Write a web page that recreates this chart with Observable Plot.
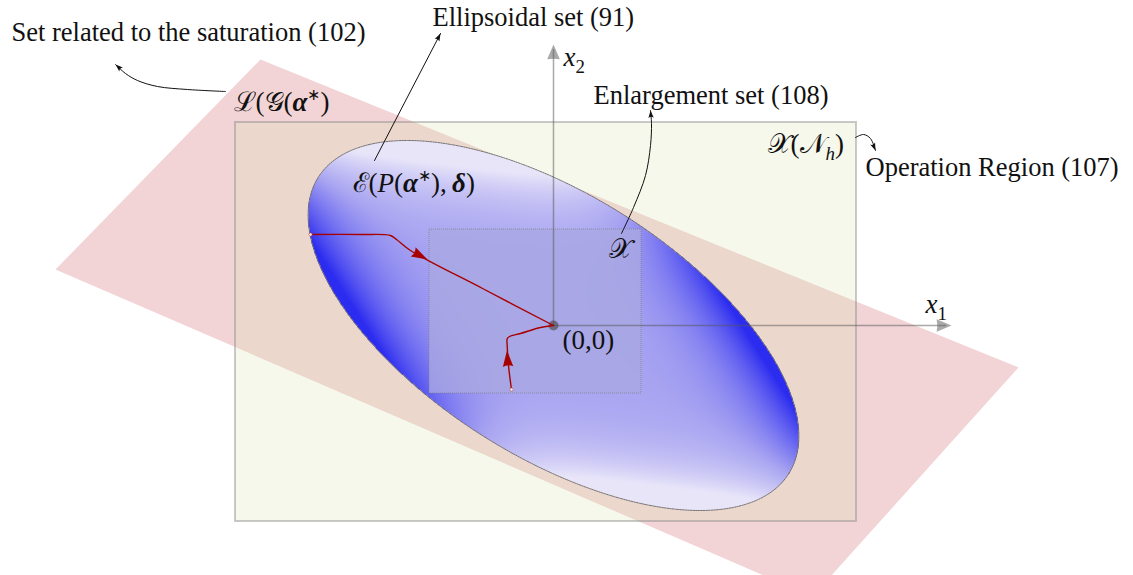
<!DOCTYPE html>
<html>
<head>
<meta charset="utf-8">
<script src="https://cdn.jsdelivr.net/npm/d3@7"></script>
<script src="https://cdn.jsdelivr.net/npm/@observablehq/plot@0.6"></script>
<style>
  html, body { margin: 0; padding: 0; background: #fff; }
  #chart svg { display: block; }
</style>
</head>
<body>
<div id="chart"></div>
<script>
// ---- Diagram data (state-space units, origin at (0,0)) ----
// Saturation set L(G(alpha*)) – a slanted band (polygon corners)
const bandX = [-4.98, -2.93, 4.65, 2.59];
const bandY = [0.56, 2.66, -0.42, -2.71];

// Operation region X(N_h) – rectangle
const operationX = [-3.18, 3.03];
const operationY = [-1.96, 2.03];

// Enlargement set X – rectangle
const enlargeX = [-1.24, 0.88];
const enlargeY = [-0.68, 0.96];

// Ellipsoidal set E(P(alpha*), delta)
const ellipseSemiAxes = [2.78, 1.31];
const ellipseTiltDeg = -32.2;

// State axes (tips)
const axisX1Tip = 3.98;
const axisX2Tip = 2.81;

// Trajectories converging to the origin
const traj1X = [-2.43, -1.93, -1.63, -1.57, -1.43, -0.70, 0];
const traj1Y = [0.91, 0.91, 0.90, 0.86, 0.75, 0.365, 0];
const traj2X = [-0.42, -0.45, -0.463, -0.463, -0.44, -0.33, -0.13, 0];
const traj2Y = [-0.64, -0.40, -0.20, -0.133, -0.11, -0.08, -0.02, 0];
const trajArrowX = [-1.26, -0.465];
const trajArrowY = [0.66, -0.25];

// Annotation pointers
const noteSatX = [-3.28, -3.66, -3.96, -4.16, -4.28, -4.38];
const noteSatY = [2.34, 2.36, 2.39, 2.45, 2.52, 2.61];
const noteEllX = [-1.79, -1.13];
const noteEllY = [1.65, 2.92];
const noteEnlX = [0.68, 0.80, 0.92, 0.97, 0.98, 0.97];
const noteEnlY = [0.92, 1.18, 1.50, 1.80, 2.02, 2.15];
const noteOpX = [3.02, 3.10, 3.17, 3.22];
const noteOpY = [1.88, 1.91, 1.87, 1.75];

// Text labels
const noteTexts = ["Set related to the saturation (102)", "Ellipsoidal set (91)", "Enlargement set (108)", "Operation Region (107)"];
const noteTextX = [-5.42, -1.21, 0.40, 3.12];
const noteTextY = [2.85, 3.00, 2.22, 1.50];
const mathTexts = ["ℒ(𝒢(𝛂*)", "ℰ(𝑃(𝛂*),\u2009𝛅)", "𝒳(𝒩ₕ)", "𝒳", "(0,0)", "𝑥₂", "𝑥₁"];
const mathTextX = [-3.20, -2.01, 2.14, 0.55, 0.09, 0.10, 3.72];
const mathTextY = [2.15, 1.34, 1.73, 0.68, -0.23, 2.60, 0.13];

// ---- helpers ----
const zipXY = (xs, ys) => xs.map((x, i) => ({x, y: ys[i]}));
const tilt = ellipseTiltDeg * Math.PI / 180;
const [ea, eb] = ellipseSemiAxes;
const cosT = Math.cos(tilt), sinT = Math.sin(tilt);
function localPQ(x, y) {
  const u = x * cosT + y * sinT;
  const v = -x * sinT + y * cosT;
  return [u / ea, v / eb];
}
function inside(x, y) { const [p, q] = localPQ(x, y); return p * p + q * q <= 1; }
function shade(x, y) {
  const [p, q] = localPQ(x, y);
  const r2 = p * p + q * q;
  if (r2 > 1) return NaN;
  if (r2 < 1e-9) return 0.42;
  const s2 = 2 * p * q / r2;              // sin(2·angle) on the ellipse
  return Math.max(0, Math.min(1, 0.42 + 0.72 * s2 * Math.pow(r2, 2)));
}
const ellipseOutline = d3.range(0, 361, 1).map(k => {
  const f = k * Math.PI / 180;
  const u = ea * Math.cos(f), v = eb * Math.sin(f);
  return {x: u * cosT - v * sinT, y: u * sinT + v * cosT};
});
function headingOnPath(xs, ys, ax, ay) {
  let best = 0, bd = Infinity;
  for (let i = 0; i < xs.length - 1; i++) {
    const mx = (xs[i] + xs[i + 1]) / 2, my = (ys[i] + ys[i + 1]) / 2;
    const d = (mx - ax) ** 2 + (my - ay) ** 2;
    if (d < bd) { bd = d; best = i; }
  }
  const dx = xs[best + 1] - xs[best], dy = ys[best + 1] - ys[best];
  return 90 - Math.atan2(dy, dx) * 180 / Math.PI;
}
function tipOf(xs, ys) {
  const n = xs.length;
  const dx = xs[n - 1] - xs[n - 2], dy = ys[n - 1] - ys[n - 2];
  return {x: xs[n - 1], y: ys[n - 1], rotate: 90 - Math.atan2(dy, dx) * 180 / Math.PI};
}
// arrowhead symbols (tip at origin, pointing up)
function headSymbol(lenK, halfW, notch) {
  return {
    draw(ctx, size) {
      const r = Math.sqrt(size / Math.PI);
      ctx.moveTo(0, 0);
      ctx.lineTo(-halfW * r, lenK * r);
      ctx.quadraticCurveTo(0, (lenK - notch) * r, halfW * r, lenK * r);
      ctx.closePath();
    }
  };
}
const latexHead = headSymbol(2.8, 0.9, 0.5);
const stealthHead = headSymbol(2.8, 1.0, 0.9);
const axisHead = headSymbol(2.7, 1.15, 0.25);

const trajArrows = trajArrowX.map((x, i) => ({
  x, y: trajArrowY[i],
  rotate: i === 0 ? headingOnPath(traj1X, traj1Y, x, trajArrowY[i]) : headingOnPath(traj2X, traj2Y, x, trajArrowY[i])
}));
const notes = [[noteSatX, noteSatY], [noteEllX, noteEllY], [noteEnlX, noteEnlY], [noteOpX, noteOpY]];
const noteTips = notes.map(([xs, ys]) => tipOf(xs, ys));
const axisTips = [{x: axisX1Tip, y: 0, rotate: 90}, {x: 0, y: axisX2Tip, rotate: 0}];
const noteLabels = noteTexts.map((t, i) => ({t, x: noteTextX[i], y: noteTextY[i]}));
const mathLabels = mathTexts.map((t, i) => ({t, x: mathTextX[i], y: mathTextY[i]}));

const serif = "'Liberation Serif', 'Times New Roman', serif";
const scriptFont = "'DejaVu Serif', 'Liberation Serif', serif";
const mathSize = 27;

const chart = Plot.plot({
  width: 1133,
  height: 575,
  margin: 0,
  x: {domain: [-5.53, 5.80], axis: null},
  y: {domain: [-2.50, 3.25], axis: null},
  color: {type: "linear", domain: [0, 0.42, 1], range: ["#e8e5f9", "#a8a4f1", "#2c2cf0"], legend: false},
  style: {background: "white", fontFamily: serif, overflow: "hidden"},
  marks: [
    // saturation band
    Plot.line(zipXY(bandX, bandY), {x: "x", y: "y", fill: "#f2d4d6", stroke: "none", clip: true}),
    // operation region
    Plot.rect([{x1: operationX[0], x2: operationX[1], y1: operationY[0], y2: operationY[1]}],
      {x1: "x1", x2: "x2", y1: "y1", y2: "y2", fill: "rgb(216,225,172)", fillOpacity: 0.23,
       stroke: "#8a8a8a", strokeOpacity: 0.45, strokeWidth: 2}),
    // ellipsoidal set shading
    Plot.raster({
      x1: -2.55, x2: 2.55, y1: -1.95, y2: 1.95, pixelSize: 1,
      fill: (x, y) => shade(x, y),
      fillOpacity: (x, y) => inside(x, y) ? 1 : 0
    }),
    Plot.line(ellipseOutline, {x: "x", y: "y", stroke: "#555", strokeWidth: 0.8, strokeDasharray: "1.6,1"}),
    // enlargement set
    Plot.rect([{x1: enlargeX[0], x2: enlargeX[1], y1: enlargeY[0], y2: enlargeY[1]}],
      {x1: "x1", x2: "x2", y1: "y1", y2: "y2", fill: "#a9a8e2", fillOpacity: 0.8,
       stroke: "#777", strokeOpacity: 0.8, strokeWidth: 0.8, strokeDasharray: "1,1"}),
    // axes
    Plot.ruleY([0], {x1: 0, x2: axisX1Tip - 0.05, stroke: "#555", strokeOpacity: 0.5, strokeWidth: 1.5}),
    Plot.ruleX([0], {y1: 0, y2: axisX2Tip - 0.05, stroke: "#555", strokeOpacity: 0.5, strokeWidth: 1.5}),
    Plot.dot(axisTips, {x: "x", y: "y", rotate: "rotate", symbol: axisHead, r: 5.5, fill: "#555", fillOpacity: 0.5, stroke: "none"}),
    // origin
    Plot.dot([{x: 0, y: 0}], {x: "x", y: "y", r: 5, fill: "#444", fillOpacity: 0.6, stroke: "none"}),
    // trajectories
    Plot.line(zipXY(traj1X, traj1Y), {x: "x", y: "y", curve: "catmull-rom", stroke: "#a80000", strokeWidth: 1.4}),
    Plot.line(zipXY(traj2X, traj2Y), {x: "x", y: "y", curve: "catmull-rom", stroke: "#a80000", strokeWidth: 1.4}),
    Plot.dot(trajArrows, {x: "x", y: "y", rotate: "rotate", symbol: latexHead, r: 5.8, fill: "#a80000", stroke: "none"}),
    Plot.dot([{x: traj1X[0], y: traj1Y[0]}, {x: traj2X[0], y: traj2Y[0]}], {x: "x", y: "y", r: 1.6, fill: "white", stroke: "#c04040", strokeWidth: 0.6}),
    // annotation pointers
    ...notes.map(([xs, ys]) => Plot.line(zipXY(xs, ys), {x: "x", y: "y", curve: "catmull-rom", stroke: "#111", strokeWidth: 1})),
    Plot.dot(noteTips, {x: "x", y: "y", rotate: "rotate", symbol: stealthHead, r: 2.7, fill: "#111", stroke: "none"}),
    // texts
    Plot.text(noteLabels, {x: "x", y: "y", text: "t", textAnchor: "start", lineAnchor: "bottom", fontSize: 26.5, fontFamily: serif, fill: "#111"}),
    Plot.text(mathLabels, {x: "x", y: "y", text: "t", textAnchor: "start", lineAnchor: "bottom", fontSize: mathSize, fontFamily: serif, fill: "#111"})
  ]
});

// Typeset the math labels: italic variables, bold Greek, sub/superscripts, script capitals
function typeset(el) {
  const chars = Array.from(el.textContent);
  el.textContent = "";
  let shift = 0;
  for (const ch of chars) {
    const cp = ch.codePointAt(0);
    let txt = ch, italic = false, bold = false, scale = 1, target = 0, family = null;
    if (cp >= 0x1D434 && cp <= 0x1D44D) { txt = String.fromCharCode(65 + cp - 0x1D434); italic = true; }
    else if (cp >= 0x1D44E && cp <= 0x1D467) { txt = String.fromCharCode(97 + cp - 0x1D44E); italic = true; }
    else if (cp === 0x1D6C2) { txt = "α"; bold = true; italic = true; }
    else if (cp === 0x1D6C5) { txt = "δ"; bold = true; italic = true; }
    else if (cp >= 0x2080 && cp <= 0x2089) { txt = String(cp - 0x2080); scale = 0.7; target = 0.28; }
    else if (cp === 0x2095) { txt = "h"; italic = true; scale = 0.7; target = 0.28; }
    else if (ch === "*") { txt = "∗"; scale = 0.6; target = -0.4; }
    else if (cp > 0xFFFF || (cp >= 0x2100 && cp <= 0x214F)) { family = scriptFont; }
    const t = document.createElementNS("http://www.w3.org/2000/svg", "tspan");
    t.textContent = txt;
    if (italic) t.setAttribute("font-style", "italic");
    if (bold) t.setAttribute("font-weight", "bold");
    if (family) t.setAttribute("font-family", family);
    if (scale !== 1) t.setAttribute("font-size", (mathSize * scale).toFixed(1));
    if (target !== shift) { t.setAttribute("dy", ((target - shift) * mathSize).toFixed(1)); shift = target; }
    el.appendChild(t);
  }
}
chart.querySelectorAll("text").forEach(el => { if (mathTexts.includes(el.textContent)) typeset(el); });

document.getElementById("chart").appendChild(chart);
</script>
</body>
</html>
